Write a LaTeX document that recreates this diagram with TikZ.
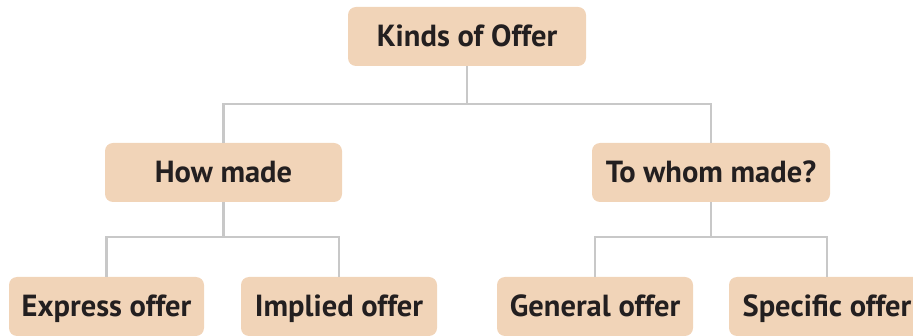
\documentclass[tikz,border=0pt]{standalone}
\usepackage{fontspec}
\setmainfont{PT Sans}
\usetikzlibrary{positioning}
\definecolor{boxfill}{HTML}{F1D4B8}
\definecolor{linegray}{HTML}{C8C8C8}
\definecolor{textdark}{HTML}{231F20}
\tikzset{
kindbox/.style={
  rectangle,
  rounded corners=8pt,
  fill=boxfill,
  text=textdark,
  font=\fontsize{30.5}{36}\selectfont\bfseries,
  text height=21pt,
  text depth=0pt,
  minimum height=59pt,
  inner sep=0pt
  },
link/.style={
  draw=linegray,
  line width=2.2pt
  }
}
\begin{document}
\begin{tikzpicture}[x=1pt,y=1pt]

\useasboundingbox (0,0) rectangle (913,-336);

\node[kindbox,minimum width=238pt] at (467,-36.5) (kind0) {Kinds of Offer};

\node[kindbox,minimum width=237pt] at (223.5,-172.5) (how1) {How made};

\node[kindbox,minimum width=238pt] at (711,-172.5) (whom1) {To whom made?};

\node[kindbox,minimum width=195pt] at (106.5,-306.5) (express2) {Express offer};

\node[kindbox,minimum width=196pt] at (339,-306.5) (implied2) {Implied offer};

\node[kindbox,minimum width=196pt] at (595,-306.5) (general2) {General offer};

\node[kindbox,minimum width=196pt] at (827,-306.5) (specific2) {Specific offer};

\draw[link] (kind0.south) -- ++(0,-38) coordinate (split0);
\draw[link] (split0) -| (how1.north);
\draw[link] (split0) -| (whom1.north);

\draw[link] (how1.south) -- ++(0,-35) coordinate (split1);
\draw[link] (split1) -| (express2.north);
\draw[link] (split1) -| (implied2.north);

\draw[link] (whom1.south) -- ++(0,-35) coordinate (split2);
\draw[link] (split2) -| (general2.north);
\draw[link] (split2) -| (specific2.north);

\end{tikzpicture}
\end{document}
